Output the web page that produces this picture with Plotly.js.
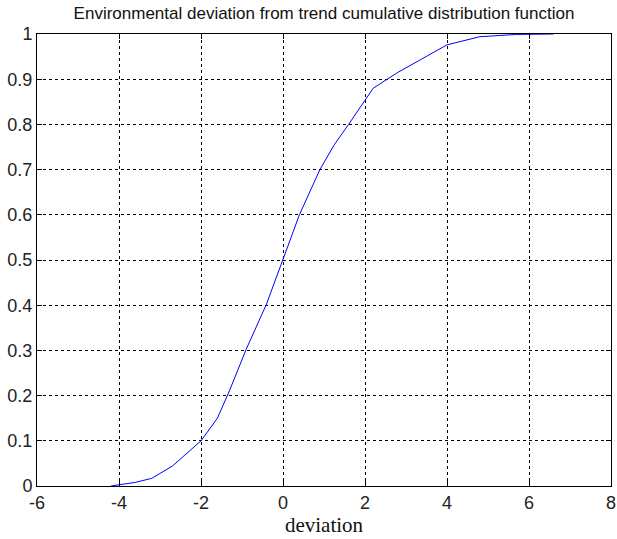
<!DOCTYPE html>
<html>
<head>
<meta charset="utf-8">
<script src="https://cdn.plot.ly/plotly-3.0.1.min.js"></script>
<style>
  html, body { margin: 0; padding: 0; background: #fff; }
  #chart { width: 617px; height: 539px; }
</style>
</head>
<body>
<div id="chart"></div>
<script>
// Cumulative distribution of the environmental deviation from trend
const deviation = [-4.2, -4.0, -3.6, -3.2, -2.7, -2.0, -1.6, -1.3, -0.9, -0.4, 0.0, 0.4, 0.9, 1.25, 1.6, 2.2, 2.8, 3.3, 4.0, 4.8, 5.7, 6.6];
const cdf       = [0.0, 0.003, 0.008, 0.017, 0.044, 0.10, 0.150, 0.212, 0.302, 0.403, 0.50, 0.60, 0.70, 0.755, 0.80, 0.88, 0.915, 0.94, 0.976, 0.994, 0.999, 1.0];

const xTicks = [-6, -4, -2, 0, 2, 4, 6, 8];
const yTicks = [0, 0.1, 0.2, 0.3, 0.4, 0.5, 0.6, 0.7, 0.8, 0.9, 1];
const yTickText = ['0', '0.1', '0.2', '0.3', '0.4', '0.5', '0.6', '0.7', '0.8', '0.9', '1'];

const tickFont = { family: 'Liberation Sans, Arial, sans-serif', size: 18, color: '#222' };

const axisCommon = {
  showline: true, linecolor: '#000', linewidth: 1, mirror: 'allticks',
  ticks: 'inside', ticklen: 5, tickcolor: '#000', tickwidth: 1,
  showgrid: true, gridcolor: '#000', gridwidth: 1, griddash: '3px,3px',
  zeroline: false, tickfont: tickFont
};

Plotly.newPlot('chart', [{
  x: deviation, y: cdf, type: 'scatter', mode: 'lines',
  line: { color: '#0000ff', width: 1 }, hoverinfo: 'skip'
}], {
  width: 617, height: 539,
  margin: { l: 37, r: 6, t: 34, b: 53 },
  paper_bgcolor: '#fff', plot_bgcolor: '#fff',
  showlegend: false,
  title: {
    text: 'Environmental deviation from trend cumulative distribution function',
    font: { family: 'Liberation Sans, Arial, sans-serif', size: 17, color: '#111' },
    xref: 'paper', x: 0.5, xanchor: 'center', y: 0.976, yanchor: 'middle'
  },
  xaxis: Object.assign({}, axisCommon, {
    range: [-6, 8], tickvals: xTicks, ticktext: xTicks.map(String),
    title: { text: 'deviation', font: { family: 'Liberation Serif, Times New Roman, serif', size: 21, color: '#111' }, standoff: 3 }
  }),
  yaxis: Object.assign({}, axisCommon, {
    range: [0, 1], tickvals: yTicks, ticktext: yTickText
  })
}, { displayModeBar: false, staticPlot: true });
</script>
</body>
</html>
